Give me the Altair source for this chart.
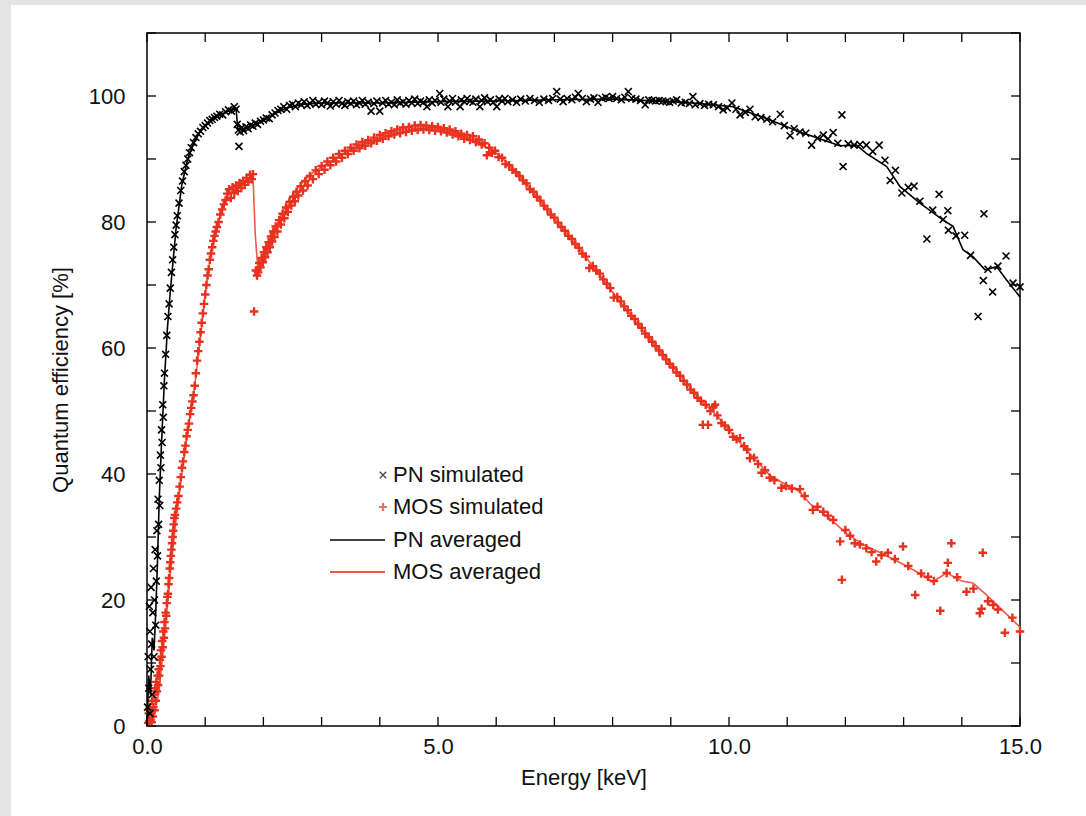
import altair as alt
import pandas as pd

# ---------------- data ----------------
pn_sim_e = [0.01,0.02,0.03,0.04,0.05,0.05,0.06,0.07,0.08,0.09,0.10,0.11,0.12,0.13,0.14,0.15,0.16,0.17,0.18,0.19,
            0.20,0.21,0.22,0.23,0.24,0.25,0.26,0.27,0.28,0.29,0.30,0.32,0.34,0.36,0.38,0.40,0.42,0.44,0.46,0.48,
            0.50,0.52,0.55,0.58,0.61,0.64,0.67,0.70,0.73,0.76,0.80,0.84,0.88,0.92,0.96,1.00,1.04,1.08,1.12,1.16,
            1.20,1.25,1.30,1.35,1.40,1.45,1.50,1.53,1.55,1.57,1.58,1.60,1.63,1.66,1.70,1.74,1.78,1.82,1.86,1.90,
            1.95,2.00,2.05,2.10,2.15,2.20,2.25,2.30,2.35,2.40,2.45,2.50,2.55,2.60,2.65,2.70,2.75,2.80,2.85,2.90,
            2.95,3.00,3.05,3.10,3.15,3.20,3.25,3.30,3.35,3.40,3.45,3.50,3.55,3.60,3.65,3.70,3.75,3.80,3.85,3.90,
            3.95,4.00,4.05,4.10,4.15,4.20,4.25,4.30,4.35,4.40,4.45,4.50,4.55,4.60,4.65,4.70,4.75,4.81,4.85,4.90,
            4.95,5.03,5.05,5.10,5.17,5.20,5.25,5.30,5.38,5.40,5.45,5.50,5.55,5.60,5.65,5.72,5.75,5.80,5.85,5.90,
            5.95,6.01,6.05,6.10,6.15,6.20,6.28,6.35,6.42,6.50,6.58,6.66,6.74,6.82,6.90,6.97,7.04,7.10,7.15,7.22,
            7.30,7.36,7.41,7.48,7.55,7.62,7.68,7.75,7.82,7.88,7.94,8.00,8.07,8.15,8.21,8.27,8.33,8.40,8.48,8.56,
            8.62,8.68,8.74,8.80,8.86,8.92,8.98,9.04,9.10,9.18,9.25,9.32,9.38,9.42,9.50,9.58,9.65,9.73,9.82,9.90,
            9.97,10.05,10.12,10.19,10.28,10.36,10.45,10.55,10.65,10.75,10.88,10.95,11.05,11.12,11.22,11.32,11.42,11.52,11.62,11.70,
            11.79,11.87,11.94,11.96,12.05,12.15,12.25,12.36,12.47,12.58,12.68,12.77,12.86,12.97,13.08,13.18,13.28,13.40,13.50,13.61,
            13.68,13.76,13.77,13.90,14.05,14.15,14.28,14.37,14.38,14.45,14.53,14.62,14.76,14.88,15.00]
pn_sim_q = [3,11,6,19,2,15,9,22,13,5,18,25,11,20,28,16,23,31,27,36,
            32,39,35,43,41,47,45,51,49,54,56,59,62,65,67,69.5,72,74,76,78,
            79.5,81,83,85,86.5,88,89,90,91,91.8,92.6,93.4,94,94.4,95,95.3,95.7,96.1,96.3,96.6,
            96.8,97.1,97.0,97.5,97.8,97.6,98.3,97.9,95.5,94.6,92.0,94.3,95.0,94.5,95.1,94.8,95.4,95.2,95.7,95.5,
            96.0,96.2,96.5,96.4,97.0,97.3,97.7,97.9,98.3,97.9,98.5,98.7,98.3,98.9,98.6,99.1,98.5,98.8,99.3,98.7,
            99.0,98.6,99.2,98.9,98.4,99.1,98.7,99.3,98.8,98.5,99.1,98.8,99.2,98.6,98.9,99.3,98.7,99.0,97.6,98.8,
            99.2,97.6,98.9,99.3,98.7,99.0,98.6,99.4,98.9,99.1,98.7,99.3,98.9,99.5,98.8,99.2,99.0,98.3,99.4,98.9,
            99.3,100.4,99.0,99.5,98.3,99.2,99.6,99.0,98.3,99.4,99.1,99.6,99.2,99.0,99.5,98.3,99.3,99.7,99.1,99.4,
            99.0,98.3,99.5,99.2,99.6,99.1,99.4,99.0,99.5,99.2,99.6,99.3,99.0,99.5,99.3,99.6,100.7,99.5,99.1,99.6,
            99.4,99.8,100.4,99.6,99.1,99.5,99.7,99.0,99.6,99.8,99.6,99.9,99.6,99.4,99.8,100.7,99.6,99.5,99.3,98.6,
            99.4,99.3,99.2,99.3,99.2,99.1,99.0,99.2,99.4,98.9,99.0,98.8,99.9,98.6,98.8,98.5,98.7,98.6,98.3,97.8,
            98.1,98.9,97.9,97.0,97.4,97.9,96.7,96.6,96.3,95.9,97.1,95.3,93.7,94.8,94.3,94.1,92.2,93.3,93.8,93.2,
            94.2,92.5,97.0,88.8,92.4,92.2,92.3,92.2,91.2,92.2,89.8,86.6,88.2,84.6,85.5,85.7,83.3,77.3,81.9,84.4,
            80.4,81.8,78.7,77.8,77.9,74.7,65.0,70.7,81.3,72.5,68.9,73.0,74.6,70.3,69.7]

mos_sim_e = [0.02,0.03,0.04,0.05,0.06,0.07,0.08,0.09,0.10,0.11,0.12,0.13,0.14,0.15,0.16,0.17,0.18,0.19,0.20,0.21,
             0.22,0.23,0.24,0.25,0.26,0.27,0.28,0.29,0.30,0.31,0.32,0.33,0.34,0.35,0.36,0.37,0.38,0.39,0.40,0.41,
             0.42,0.43,0.44,0.45,0.46,0.47,0.48,0.50,0.52,0.54,0.56,0.58,0.60,0.62,0.64,0.66,0.68,0.70,0.72,0.74,
             0.76,0.78,0.80,0.82,0.84,0.86,0.88,0.90,0.92,0.94,0.96,0.98,1.00,1.02,1.04,1.06,1.08,1.10,1.12,1.14,
             1.16,1.18,1.20,1.23,1.26,1.29,1.32,1.35,1.38,1.41,1.44,1.47,1.50,1.53,1.56,1.59,1.62,1.65,1.68,1.71,
             1.74,1.77,1.80,1.82,1.84,1.87,1.89,1.91,1.93,1.95,1.97,1.99,2.01,2.03,2.05,2.07,2.09,2.11,2.13,2.15,
             2.17,2.19,2.21,2.24,2.27,2.30,2.33,2.36,2.39,2.42,2.45,2.48,2.51,2.54,2.57,2.60,2.64,2.68,2.72,2.76,
             2.80,2.85,2.90,2.95,3.00,3.05,3.10,3.15,3.20,3.25,3.30,3.35,3.40,3.45,3.50,3.55,3.60,3.65,3.70,3.75,
             3.80,3.85,3.90,3.95,4.00,4.05,4.10,4.15,4.20,4.25,4.30,4.35,4.40,4.45,4.50,4.55,4.60,4.65,4.70,4.75,
             4.80,4.85,4.90,4.95,5.00,5.05,5.10,5.15,5.20,5.25,5.30,5.35,5.40,5.45,5.50,5.55,5.60,5.65,5.70,5.75,
             5.80,5.84,5.88,5.93,5.98,6.04,6.10,6.16,6.22,6.28,6.34,6.40,6.46,6.52,6.58,6.64,6.70,6.76,6.82,6.88,
             6.94,7.00,7.06,7.12,7.18,7.24,7.30,7.36,7.42,7.48,7.54,7.60,7.66,7.72,7.78,7.84,7.90,7.96,8.02,8.08,
             8.14,8.20,8.26,8.32,8.38,8.44,8.50,8.56,8.62,8.68,8.74,8.80,8.86,8.92,8.98,9.04,9.10,9.16,9.22,9.28,
             9.34,9.40,9.46,9.52,9.55,9.60,9.64,9.68,9.73,9.76,9.80,9.87,9.93,10.00,10.07,10.13,10.19,10.26,10.31,10.36,
             10.43,10.50,10.56,10.62,10.70,10.78,10.90,10.98,11.08,11.22,11.30,11.44,11.52,11.62,11.70,11.79,11.91,11.94,12.00,12.08,
             12.16,12.25,12.36,12.45,12.53,12.62,12.73,12.85,12.99,13.08,13.20,13.30,13.42,13.52,13.63,13.74,13.76,13.82,13.92,14.08,
             14.20,14.31,14.34,14.36,14.45,14.54,14.62,14.74,14.87,15.00]
mos_sim_q = [0.5,2,0.8,3,1,2.5,0.6,4,1.5,3,5,2.5,6,4,7,5.5,8,6.5,9,8,
             10.5,9.5,12,11,13.5,12.5,15,14,16.5,15.5,18,17.5,19.5,20.5,21,22.5,23.5,25,26,27,
             28,29,30,31,32,33,33.5,34.5,35.5,36.5,38,39.5,41,42,43.5,44.5,46,47,48,49.5,
             50.5,51.5,52.5,54,56,58,59.5,61,62.5,64,65.5,67,68.5,70,71.5,72.5,74,75,76,77,
             77.8,78.5,79.2,80,81.2,82,82.8,83.5,84.5,85.2,83.8,85.5,84.6,85.8,84.9,86.2,85.4,86.5,85.9,87,
             86.4,87.5,86.8,87.6,65.8,72.3,71.5,72.0,73.5,72.8,74.3,73.6,75.2,74.4,76.0,75.2,76.8,76.0,77.7,76.9,
             78.5,77.6,79.3,78.5,80.3,79.6,81.3,80.6,82.3,81.6,83.2,82.6,84.0,83.3,84.8,84.2,85.7,85.0,86.5,85.8,
             87.3,86.8,88.2,87.6,88.9,88.3,89.6,89.0,90.2,89.6,90.8,90.2,91.3,90.8,91.8,91.3,92.3,91.7,92.7,92.1,
             93.0,92.5,93.4,92.9,93.8,93.2,94.1,93.6,94.4,93.9,94.7,94.1,95.0,94.3,95.1,94.5,95.3,94.6,95.4,94.7,
             95.3,94.6,95.2,94.5,95.1,94.4,94.9,94.2,94.7,93.9,94.4,93.6,94.0,93.2,93.8,93.0,93.6,92.7,93.1,92.3,
             92.5,90.6,91.8,91.0,91.3,90.3,90.2,89.2,89.0,88.3,87.9,87.3,86.6,86.1,85.2,84.8,84.0,83.4,82.6,82.0,
             81.2,80.7,79.9,79.2,78.6,77.8,77.3,76.5,75.9,75.0,74.5,72.7,73.0,72.3,71.8,70.9,70.2,69.5,68.0,68.1,
             67.4,66.6,66.0,65.1,64.6,63.8,63.2,62.3,61.7,61.0,60.3,59.6,58.9,58.2,57.5,56.9,56.1,55.6,54.8,54.2,
             53.4,52.9,52.1,51.6,47.8,51.0,47.8,50.0,50.6,51.0,49.3,48.1,47.7,47.0,45.9,45.5,45.7,44.4,43.9,42.5,
             42.6,41.6,40.2,40.6,39.4,39.0,37.8,38.1,37.7,37.6,36.5,34.3,34.8,34.0,33.4,32.7,29.3,23.2,31.1,30.2,
             29.0,28.8,28.2,27.6,26.1,27.1,27.5,26.5,28.5,25.4,20.8,24.2,23.7,23.0,18.3,24.3,25.9,29.0,23.6,21.3,
             21.8,17.9,18.6,27.5,19.8,19.2,18.5,14.8,17.2,15.0]

pn_avg_e = [0.0,0.03,0.06,0.09,0.12,0.15,0.18,0.21,0.25,0.30,0.35,0.40,0.50,0.60,0.70,0.80,0.90,1.00,1.20,1.40,
            1.53,1.56,1.65,1.80,2.00,2.20,2.40,2.70,3.00,3.50,4.00,5.00,6.00,7.00,8.00,8.50,9.00,9.50,10.07,10.65,
            11.22,11.62,11.90,12.19,12.36,12.71,12.94,13.28,13.68,13.85,14.02,14.19,14.40,14.60,14.77,15.00]
pn_avg_q = [0,8,5,14,12,18,26,36,45,55,63,69,79,86,90,92.5,94.2,95.2,96.7,97.6,
            98.0,94.8,94.8,95.3,96.1,97.2,98.1,98.7,98.9,98.9,98.9,99.1,99.2,99.4,99.5,99.3,99.1,98.8,98.3,96.4,
            94.3,93.0,92.1,92.2,90.9,88.8,85.6,83.0,80.3,79.3,75.6,74.5,72.4,72.9,70.8,68.1]

mos_avg_e = [0.0,0.10,0.20,0.30,0.40,0.50,0.60,0.70,0.80,0.90,1.00,1.10,1.20,1.30,1.40,1.50,1.60,1.70,1.82,1.86,
             1.91,2.00,2.20,2.40,2.60,2.80,3.00,3.50,4.00,4.50,4.90,5.20,5.50,5.80,6.07,6.40,6.75,7.10,7.44,7.78,
             8.13,8.47,8.81,9.16,9.50,9.80,10.10,10.40,10.70,11.00,11.20,11.40,11.70,12.00,12.30,12.60,12.94,13.20,13.50,13.74,
             14.00,14.19,14.40,14.66,15.00]
mos_avg_q = [0,1,5,14,24,33,40,47,52.5,60,68.5,75,79,82.5,84.5,85,85.8,86.5,87.5,78,
             71.9,74.8,79,83,85.5,87.5,88.8,91.5,93.3,94.6,95.0,94.6,93.4,92.0,90.5,87.3,83.5,79.4,75.6,71.6,
             67.3,63.4,59.5,55.7,51.8,49.2,45.9,42.8,39.8,38.2,37.3,35.2,33.2,30.7,28.8,27.5,25.9,24.6,22.9,24.3,
             23.0,22.7,21.0,18.7,15.7]

x_tick_vals = [0,1,2,3,4,5,6,7,8,9,10,11,12,13,14,15]
y_tick_vals = [0,10,20,30,40,50,60,70,80,90,100,110]
x_label_vals = [0,5,10,15]
y_label_vals = [0,20,40,60,80,100]
legend_labels = ["PN simulated", "MOS simulated", "PN averaged", "MOS averaged"]

# ---------------- styling ----------------
W, H = 873, 693
FONT = "Liberation Sans"
RED = "#e8311f"
RED_LINE = "#ee5a45"
TICK = 9
X_SHAPE = "M-1,-1L1,1M-1,1L1,-1"
P_SHAPE = "M-1,0L1,0M0,-1L0,1"

pn_sim = pd.DataFrame({"E": pn_sim_e, "Q": pn_sim_q})
mos_sim = pd.DataFrame({"E": mos_sim_e, "Q": mos_sim_q})
pn_avg = pd.DataFrame({"E": pn_avg_e, "Q": pn_avg_q})
mos_avg = pd.DataFrame({"E": mos_avg_e, "Q": mos_avg_q})
xt = pd.DataFrame({"E": x_tick_vals})
yt = pd.DataFrame({"Q": y_tick_vals})

xs = alt.Scale(domain=[0, 15], nice=False, zero=False)
ys = alt.Scale(domain=[0, 110], nice=False, zero=False)
x_axis = alt.Axis(values=x_label_vals, format=".1f", ticks=False, domain=False, grid=False,
                  labelFlush=False, labelPadding=10, title="Energy [keV]", titlePadding=10)
y_axis = alt.Axis(values=y_label_vals, format="d", ticks=False, domain=False, grid=False,
                  labelFlush=False, labelPadding=22, title="Quantum efficiency [%]", titlePadding=16)
X = alt.X("E:Q", scale=xs, axis=x_axis)
Y = alt.Y("Q:Q", scale=ys, axis=y_axis)

one = alt.Data(values=[{"k": 1}])

strip_left = alt.Chart(one).mark_rect(color="#e4e4e4").encode(
    x=alt.value(-147), x2=alt.value(-136), y=alt.value(-33), y2=alt.value(783))
strip_top = alt.Chart(one).mark_rect(color="#e4e4e4").encode(
    x=alt.value(-147), x2=alt.value(939), y=alt.value(-33), y2=alt.value(-28))

pn_pts = alt.Chart(pn_sim).mark_point(shape=X_SHAPE, filled=False, stroke="black",
                                      strokeWidth=1.6, size=48, opacity=1).encode(x=X, y=Y)
mos_pts = alt.Chart(mos_sim).mark_point(shape=P_SHAPE, filled=False, stroke=RED,
                                        strokeWidth=2.4, size=72, opacity=1).encode(x=X, y=Y)
pn_line = alt.Chart(pn_avg).mark_line(color="black", strokeWidth=1.6).encode(x=X, y=Y)
mos_line = alt.Chart(mos_avg).mark_line(color=RED_LINE, strokeWidth=1.6).encode(x=X, y=Y)

xt_bot = alt.Chart(xt).mark_rule(color="black", strokeWidth=1.3).encode(
    x=X, y=alt.value(H), y2=alt.value(H - TICK))
xt_top = alt.Chart(xt).mark_rule(color="black", strokeWidth=1.3).encode(
    x=X, y=alt.value(0), y2=alt.value(TICK))
yt_left = alt.Chart(yt).mark_rule(color="black", strokeWidth=1.3).encode(
    y=Y, x=alt.value(0), x2=alt.value(TICK))
yt_right = alt.Chart(yt).mark_rule(color="black", strokeWidth=1.3).encode(
    y=Y, x=alt.value(W - TICK), x2=alt.value(W))

# legend (inside plot, gnuplot style)
LX_TEXT = 246
LY = [442, 474, 507, 539]
leg = []
for lbl, ly in zip(legend_labels, LY):
    leg.append(alt.Chart(one).mark_text(text=lbl, align="left", baseline="middle",
                                         font=FONT, fontSize=22, color="#111").encode(
        x=alt.value(LX_TEXT), y=alt.value(ly)))
leg.append(alt.Chart(one).mark_point(shape=X_SHAPE, filled=False, stroke="black",
                                     strokeWidth=1.4, size=40).encode(x=alt.value(236), y=alt.value(LY[0])))
leg.append(alt.Chart(one).mark_point(shape=P_SHAPE, filled=False, stroke=RED,
                                     strokeWidth=2.2, size=64).encode(x=alt.value(236), y=alt.value(LY[1])))
leg.append(alt.Chart(one).mark_rule(color="black", strokeWidth=1.6).encode(
    x=alt.value(183), x2=alt.value(238), y=alt.value(LY[2])))
leg.append(alt.Chart(one).mark_rule(color=RED_LINE, strokeWidth=2).encode(
    x=alt.value(183), x2=alt.value(238), y=alt.value(LY[3])))

chart = alt.layer(
    strip_left, strip_top, mos_line, mos_pts, pn_line, pn_pts,
    xt_bot, xt_top, yt_left, yt_right, *leg
).properties(
    width=W, height=H,
    padding={"left": 147, "top": 33, "right": 66, "bottom": 90},
    autosize=alt.AutoSizeParams(type="none"),
    background="white",
).configure_view(
    stroke="black", strokeWidth=1.5
).configure_axis(
    labelFont=FONT, titleFont=FONT, labelFontSize=22, titleFontSize=22,
    labelColor="#111", titleColor="#111", titleFontWeight="normal", zindex=1
)

chart.save("out.html", embed_options={"renderer": "svg", "actions": False})
